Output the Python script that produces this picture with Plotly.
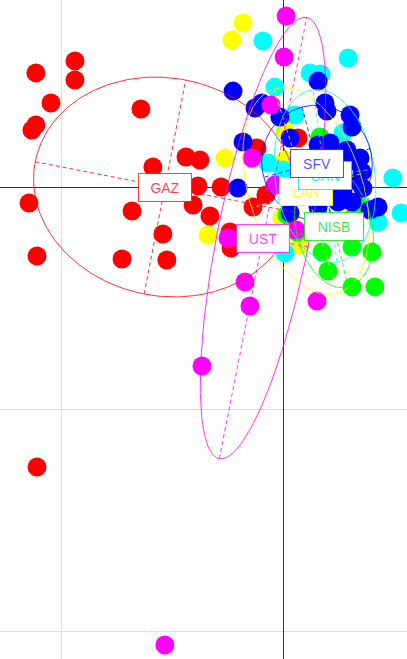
import numpy as np
import plotly.graph_objects as go

# ---------------- data (grid step d = 1) ----------------
gaz_x = [-1.113, -0.937, -0.937, -1.045, -1.113, -1.131, -0.640, -0.586, -0.437, -0.374,
         -1.144, -0.680, -0.383, -0.405, -0.329, -0.541, -1.108, -0.725, -0.523, -0.279,
         -0.135, -0.077, -0.239, -0.234, 0.068, -0.117, -1.108]
gaz_y = [0.514, 0.568, 0.482, 0.378, 0.279, 0.257, 0.351, 0.090, 0.135, 0.122,
         -0.072, -0.108, 0.005, -0.081, -0.131, -0.212, -0.311, -0.324, -0.329, 0.000,
         -0.090, -0.036, -0.203, -0.275, 0.221, 0.176, -1.261]

ust_x = [0.014, 0.005, -0.054, -0.140, -0.036, -0.248, 0.059, -0.171, -0.149, 0.153, -0.365, -0.532]
ust_y = [0.770, 0.586, 0.369, 0.131, 0.009, -0.230, -0.194, -0.428, -0.536, -0.514, -0.806, -2.063]

lan_x = [-0.180, -0.230, 0.009, -0.261, 0.009, -0.338, 0.077, 0.032, 0.279, 0.302,
         0.144, 0.144, -0.005, 0.234]
lan_y = [0.739, 0.662, 0.257, 0.131, 0.122, -0.216, -0.261, -0.180, -0.171, -0.081,
         0.099, -0.014, -0.140, -0.185]

can_x = [-0.090, 0.293, 0.122, 0.171, -0.036, 0.054, 0.270, -0.068, 0.000, 0.495,
         0.532, 0.428, 0.009, 0.356, 0.189, 0.302, 0.212]
can_y = [0.658, 0.581, 0.514, 0.509, 0.450, 0.324, 0.243, 0.108, 0.077, 0.041,
         -0.117, -0.158, -0.297, -0.081, 0.054, -0.194, 0.077]

nisb_x = [0.167, 0.324, 0.063, 0.018, 0.176, 0.311, 0.401, 0.203, 0.311, 0.414, 0.167, 0.257, 0.324]
nisb_y = [0.225, -0.072, -0.203, -0.126, -0.293, -0.270, -0.293, -0.378, -0.450, -0.450, -0.180, -0.194, -0.171]

sfv_x = [-0.225, 0.158, -0.126, -0.095, -0.014, 0.189, 0.198, 0.302, 0.311, -0.180,
         0.032, 0.158, 0.212, 0.288, 0.347, 0.293, 0.356, 0.338, 0.360, 0.428,
         0.392, 0.248, 0.311, 0.158, 0.032, -0.203, 0.270, 0.212]
sfv_y = [0.432, 0.477, 0.356, 0.378, 0.315, 0.378, 0.342, 0.324, 0.270, 0.203,
         0.221, 0.189, 0.198, 0.167, 0.131, 0.113, 0.068, 0.023, -0.005, -0.090,
         -0.104, -0.068, -0.068, -0.090, -0.117, -0.005, -0.014, -0.045]

# class summaries (centre, semi-axes, major-axis angle in degrees)
classes = ["GAZ", "UST", "NISB", "LAN", "CAN", "SFV"]
ell_cx = [-0.532, -0.090, 0.230, 0.104, 0.189, 0.153]
ell_cy = [0.000, -0.230, -0.180, -0.018, 0.050, 0.108]
ell_a = [0.595, 1.013, 0.279, 0.482, 0.392, 0.261]
ell_b = [0.491, 0.207, 0.171, 0.257, 0.225, 0.248]
ell_angle = [-11.0, 78.8, 103.0, 107.5, 98.0, 105.0]

colors = {"GAZ": "#ff0000", "LAN": "#ffff00", "CAN": "#00ffff",
          "NISB": "#00ff00", "SFV": "#0000ff", "UST": "#ff00ff"}
label_rgba = {"GAZ": "rgba(255,0,0,0.75)", "LAN": "rgba(255,255,0,0.9)",
              "CAN": "rgba(0,230,230,0.8)", "NISB": "rgba(0,220,0,0.75)",
              "SFV": "rgba(0,0,255,0.7)", "UST": "rgba(255,0,255,0.75)"}

points = [("LAN", lan_x, lan_y), ("CAN", can_x, can_y), ("GAZ", gaz_x, gaz_y),
          ("NISB", nisb_x, nisb_y), ("SFV", sfv_x, sfv_y), ("UST", ust_x, ust_y)]

fig = go.Figure()

for name, xs, ys in points:
    fig.add_trace(go.Scatter(x=xs, y=ys, mode="markers", name=name,
                             marker=dict(size=19, color=colors[name], line=dict(width=0)),
                             hoverinfo="skip"))

t = np.linspace(0, 2 * np.pi, 240)
for i, name in enumerate(classes):
    th = np.deg2rad(ell_angle[i])
    a, b, cx, cy = ell_a[i], ell_b[i], ell_cx[i], ell_cy[i]
    ex = cx + a * np.cos(t) * np.cos(th) - b * np.sin(t) * np.sin(th)
    ey = cy + a * np.cos(t) * np.sin(th) + b * np.sin(t) * np.cos(th)
    fig.add_trace(go.Scatter(x=ex, y=ey, mode="lines",
                             line=dict(color=colors[name], width=1),
                             opacity=0.8, hoverinfo="skip"))
    # axes of the ellipse
    for ax_len, ang in ((a, th), (b, th + np.pi / 2)):
        fig.add_trace(go.Scatter(
            x=[cx - ax_len * np.cos(ang), cx + ax_len * np.cos(ang)],
            y=[cy - ax_len * np.sin(ang), cy + ax_len * np.sin(ang)],
            mode="lines", line=dict(color=colors[name], width=1, dash="4px,3px"),
            opacity=0.8, hoverinfo="skip"))

for i, name in enumerate(classes):
    fig.add_annotation(x=ell_cx[i], y=ell_cy[i], text=name, showarrow=False,
                       font=dict(family="Liberation Sans, Arial", size=14, color=label_rgba[name]),
                       bgcolor="white", bordercolor=label_rgba[name], borderwidth=1,
                       borderpad=0, width=58 if len(name) > 3 else 52, height=27)

PX = 222.0
fig.update_layout(
    width=407, height=659, margin=dict(l=0, r=0, t=0, b=0),
    paper_bgcolor="white", plot_bgcolor="white", showlegend=False,
    xaxis=dict(range=[-283 / PX, 124 / PX], dtick=1, tick0=0, showgrid=True,
               gridcolor="#dedede", gridwidth=1, zeroline=True, zerolinecolor="#333333",
               zerolinewidth=1, showticklabels=False, ticks="", showline=False, fixedrange=True),
    yaxis=dict(range=[-472 / PX, 187 / PX], dtick=1, tick0=0, showgrid=True,
               gridcolor="#dedede", gridwidth=1, zeroline=True, zerolinecolor="#333333",
               zerolinewidth=1, showticklabels=False, ticks="", showline=False, fixedrange=True),
)

fig.write_html("out.html", config={"displayModeBar": False},
               post_script="document.body.style.margin='0';document.body.style.overflow='hidden';")
